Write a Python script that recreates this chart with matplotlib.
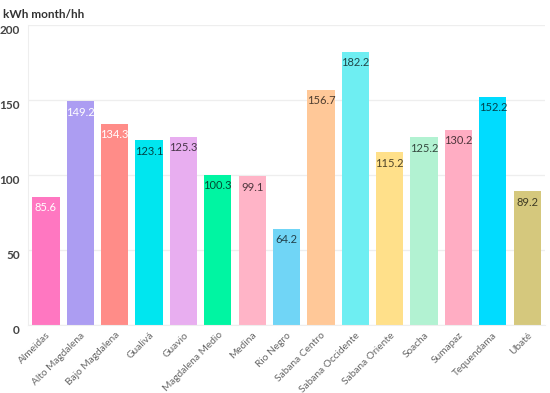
import matplotlib
matplotlib.use('Agg')
import matplotlib.pyplot as plt
import matplotlib.colors as mcolors
import numpy as np

# Datos
provinces = ['Almeidas', 'Alto Magdalena', 'Bajo Magdalena', 'Gualivá', 'Guavio',
             'Magdalena Medio', 'Medina', 'Rio Negro', 'Sabana Centro', 'Sabana Occidente',
             'Sabana Oriente', 'Soacha', 'Sumapaz', 'Tequendama', 'Ubaté']
kwh = [85.6, 149.2, 134.3, 123.1, 125.3, 100.3, 99.1, 64.2, 156.7, 182.2,
       115.2, 125.2, 130.2, 152.2, 89.2]
bar_colors = ['#FF77C1', '#AC9DF2', '#FF8C88', '#00E6EF', '#E8AEF0', '#00F5A2', '#FFB4C7',
              '#70D5F6', '#FFC898', '#6EEEF2', '#FFE08A', '#B2F2D2', '#FFADC3', '#00DCFF', '#D5C87D']
white_labels = [True, True, True] + [False] * 12

plt.rcParams['font.family'] = ['Lato', 'DejaVu Sans']

fig = plt.figure(figsize=(5.5, 3.93), dpi=100)
ax = fig.add_axes([0.051, 0.173, 0.94, 0.763])

x = np.arange(len(provinces))
bars = ax.bar(x, kwh, width=0.79, color=bar_colors, zorder=2)

for b, v, c, w in zip(bars, kwh, bar_colors, white_labels):
    if w:
        tc = 'white'
    else:
        tc = np.array(mcolors.to_rgb(c)) * 0.3
    ax.text(b.get_x() + b.get_width() / 2, v - 3.5, f'{v:.1f}', ha='center', va='top',
            fontsize=8, color=tc, zorder=3)

ax.set_xlim(-0.52, len(provinces) - 0.48)
ax.set_ylim(0, 200)
ax.set_yticks([0, 50, 100, 150, 200])
ax.grid(axis='y', color='#eeeeee', linewidth=0.9, zorder=0)
ax.set_axisbelow(True)
for s in ['top', 'right']:
    ax.spines[s].set_visible(False)
ax.spines['left'].set_color('#eeeeee')
ax.spines['bottom'].set_color('#eeeeee')
ax.tick_params(axis='both', length=0)
ax.tick_params(axis='y', pad=6, labelsize=8.5, labelcolor='#444444')
ax.tick_params(axis='x', pad=4, labelsize=7.3, labelcolor='#666666')
for lab in ax.get_yticklabels():
    lab.set_fontweight('bold')
    lab.set_va('top')

ax.set_xticks(x)
ax.set_xticklabels(provinces, rotation=45, ha='right', rotation_mode='anchor')

fig.text(0.006, 0.978, 'kWh month/hh', ha='left', va='top', fontsize=8.5,
         fontweight='bold', color='#333333')

fig.savefig('out.png', dpi=100)
